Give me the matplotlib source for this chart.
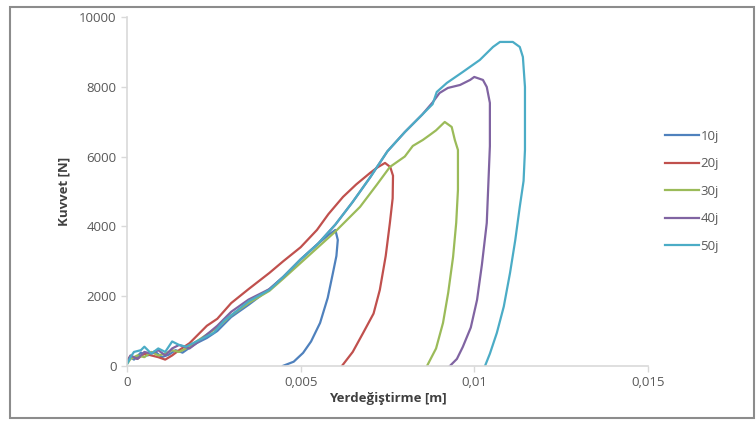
import matplotlib.pyplot as plt
from matplotlib.patches import Rectangle

# Kuvvet - yerdeğiştirme verileri
x_10j = [0, 0.0001, 0.0002, 0.0004, 0.0006, 0.0008, 0.001, 0.0012, 0.0014, 0.0016, 0.0018,
         0.002, 0.0023, 0.0026, 0.003, 0.0035, 0.0041, 0.0045, 0.005, 0.0055, 0.0058, 0.006,
         0.00607, 0.00603, 0.00593, 0.00578, 0.00556, 0.0053, 0.00507, 0.0048, 0.00449]
y_10j = [100, 250, 180, 380, 300, 420, 250, 320, 450, 380, 520,
         650, 800, 1000, 1400, 1750, 2200, 2550, 3050, 3500, 3750, 3896,
         3610, 3150, 2664, 1950, 1232, 700, 372, 120, 0]

x_20j = [0, 0.0001, 0.0003, 0.0005, 0.0007, 0.0009, 0.0011, 0.0013, 0.0015, 0.0018, 0.002,
         0.0023, 0.0026, 0.003, 0.0035, 0.0041, 0.0045, 0.005, 0.00547, 0.0058, 0.00622, 0.0066,
         0.007, 0.0072, 0.00743, 0.00758, 0.00766, 0.00765, 0.00757, 0.00745, 0.00728, 0.0071,
         0.0068, 0.0065, 0.00619]
y_20j = [150, 280, 200, 350, 300, 250, 180, 300, 450, 650, 850,
         1150, 1350, 1800, 2200, 2664, 3000, 3400, 3896, 4350, 4842, 5200,
         5530, 5680, 5816, 5700, 5450, 4800, 4097, 3150, 2177, 1500,
         945, 400, 0]

x_30j = [0, 0.0001, 0.0003, 0.0005, 0.0007, 0.0009, 0.0011, 0.0013, 0.0015, 0.0018, 0.002,
         0.0023, 0.0026, 0.003, 0.0035, 0.0041, 0.0045, 0.005, 0.0055, 0.006, 0.00671, 0.0072,
         0.00757, 0.008, 0.00823, 0.00852, 0.00872, 0.0089, 0.00915, 0.00935, 0.00944, 0.00953,
         0.00953, 0.00948, 0.00939, 0.00925, 0.0091, 0.0089, 0.00864]
y_30j = [50, 200, 300, 250, 400, 300, 350, 450, 400, 550, 700,
         900, 1100, 1450, 1800, 2150, 2500, 2950, 3400, 3850, 4556, 5200,
         5700, 6000, 6303, 6475, 6618, 6750, 6990, 6847, 6475, 6188,
         5042, 4100, 3122, 2100, 1232, 500, 0]

x_40j = [0, 0.0001, 0.0003, 0.0005, 0.0007, 0.0009, 0.0011, 0.0013, 0.0015, 0.0018, 0.002,
         0.0023, 0.0026, 0.003, 0.0035, 0.0041, 0.0045, 0.005, 0.0055, 0.006, 0.0065, 0.007,
         0.0075, 0.008, 0.0085, 0.0088, 0.009, 0.00924, 0.00959, 0.00988, 0.01, 0.01025, 0.01036,
         0.01045, 0.01045, 0.01036, 0.01022, 0.01008, 0.0099, 0.00967, 0.0095, 0.0093]
y_40j = [100, 300, 200, 400, 350, 450, 300, 500, 600, 500, 650,
         900, 1150, 1550, 1900, 2200, 2550, 3050, 3500, 4050, 4700, 5400,
         6150, 6700, 7200, 7550, 7820, 7965, 8050, 8194, 8280, 8194, 7993,
         7535, 6300, 4097, 2900, 1890, 1100, 544, 200, 0]

x_50j = [0, 0.0001, 0.0002, 0.0004, 0.0005, 0.0007, 0.0009, 0.0011, 0.0013, 0.0015, 0.0017,
         0.002, 0.0022, 0.0025, 0.0028, 0.003, 0.0035, 0.0041, 0.0045, 0.005, 0.0055, 0.006,
         0.0065, 0.007, 0.0075, 0.008, 0.0085, 0.0088, 0.00892, 0.00921, 0.00967, 0.01016,
         0.01054, 0.01074, 0.01111, 0.01131, 0.0114, 0.01146, 0.01146, 0.01142, 0.01131,
         0.01118, 0.01103, 0.01085, 0.01065, 0.01045, 0.01031]
y_50j = [50, 250, 400, 450, 550, 350, 500, 400, 700, 600, 550,
         700, 800, 950, 1300, 1450, 1850, 2177, 2550, 3050, 3500, 4050,
         4700, 5400, 6150, 6700, 7200, 7500, 7850, 8108, 8423, 8767,
         9140, 9283, 9283, 9140, 8853, 7993, 6188, 5300, 4556,
         3600, 2664, 1700, 945, 350, 0]

etiketler = ['10j', '20j', '30j', '40j', '50j']
renkler = ['#4F81BD', '#C0504D', '#9BBB59', '#8064A2', '#4BACC6']

plt.rcParams['font.family'] = ['Open Sans', 'DejaVu Sans']

fig = plt.figure(figsize=(7.56, 4.23), dpi=100)
ax = fig.add_axes([0.168, 0.135, 0.689, 0.825])

seriler = [(x_10j, y_10j), (x_20j, y_20j), (x_30j, y_30j), (x_40j, y_40j), (x_50j, y_50j)]
for (xs, ys), lbl, c in zip(seriler, etiketler, renkler):
    ax.plot(xs, ys, color=c, lw=1.6, label=lbl)

ax.set_xlim(0, 0.015)
ax.set_ylim(0, 10000)
ax.set_xticks([0, 0.005, 0.01, 0.015])
ax.set_xticklabels(['0', '0,005', '0,01', '0,015'])
ax.set_yticks([0, 2000, 4000, 6000, 8000, 10000])

for s in ['top', 'right']:
    ax.spines[s].set_visible(False)
for s in ['left', 'bottom']:
    ax.spines[s].set_color('#D9D9D9')
    ax.spines[s].set_linewidth(1.2)
ax.tick_params(colors='#D9D9D9', labelcolor='#595959', labelsize=9.5, length=4, width=1)

ax.set_xlabel('Yerdeğiştirme [m]', fontsize=9.5, fontweight='bold', color='#404040', labelpad=2)
ax.set_ylabel('Kuvvet [N]', fontsize=9.5, fontweight='bold', color='#404040', labelpad=6)

ax.legend(loc='center left', bbox_to_anchor=(1.01, 0.5), frameon=False, fontsize=9.5,
          handlelength=2.6, handletextpad=0.1, labelspacing=1.1, labelcolor='#595959')

fig.patches.append(Rectangle((0.013, 0.012), 0.985, 0.972, transform=fig.transFigure,
                             fill=False, edgecolor='#8C8C8C', lw=1.5))

fig.savefig('out.png', dpi=100)
